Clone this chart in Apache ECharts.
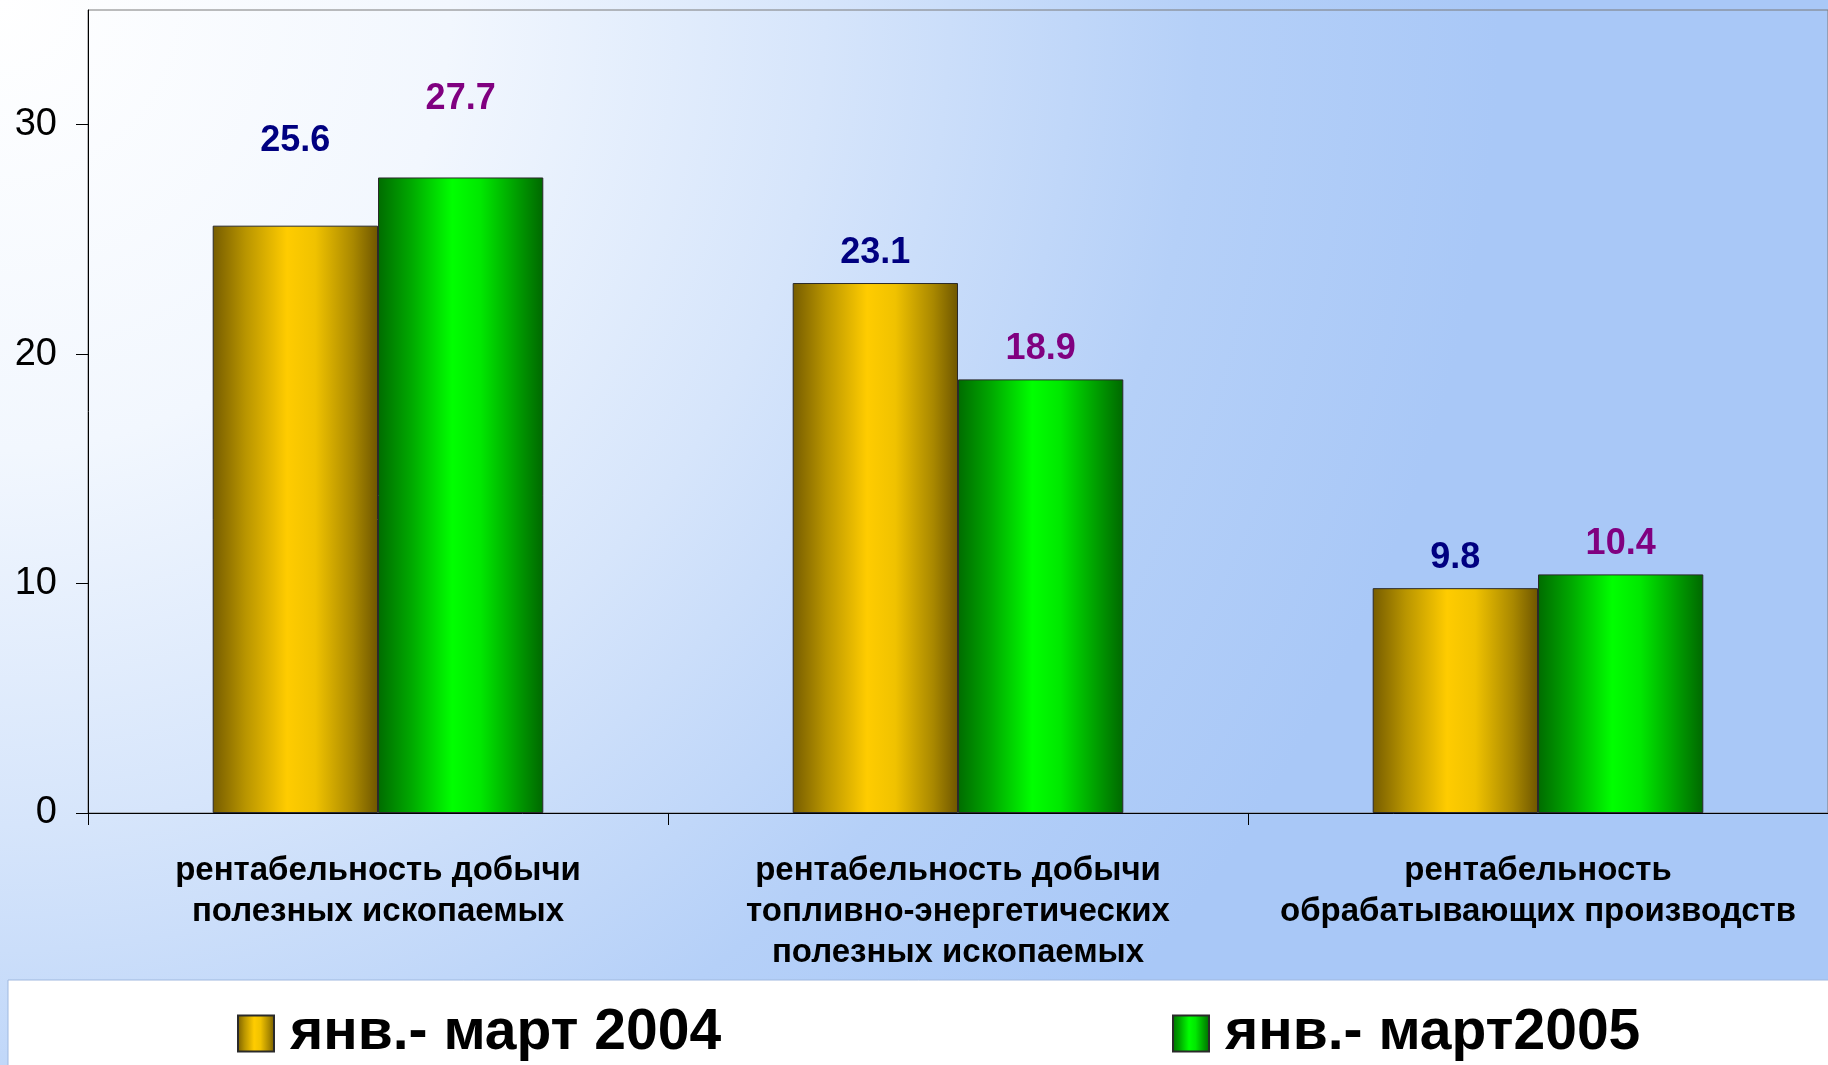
<!DOCTYPE html>
<html>
<head>
<meta charset="utf-8">
<title>рентабельность</title>
<script src="https://cdn.jsdelivr.net/npm/echarts@6/dist/echarts.min.js"></script>
<style>
  html, body { margin: 0; padding: 0; background: #ffffff; }
  #main { width: 1828px; height: 1065px; }
</style>
</head>
<body>
<div id="main"></div>
<script>
// данные
var categories = [
  'рентабельность добычи\nполезных ископаемых',
  'рентабельность добычи\nтопливно-энергетических\nполезных ископаемых',
  'рентабельность\nобрабатывающих производств'
];
var seriesNames = ['янв.- март 2004', 'янв.- март2005'];
var values2004 = [25.6, 23.1, 9.8];
var values2005 = [27.7, 18.9, 10.4];
var yTicks = [0, 10, 20, 30];

// подписи первой группы подняты выше (как в оригинале)
var lift2004 = [67, 12, 12];
var lift2005 = [60, 12, 12];

var chart = echarts.init(document.getElementById('main'));

var yellow = new echarts.graphic.LinearGradient(0, 0, 1, 0, [
  { offset: 0, color: '#765c00' },
  { offset: 0.2, color: '#b99500' },
  { offset: 0.45, color: '#ffcc00' },
  { offset: 0.62, color: '#f0c200' },
  { offset: 0.85, color: '#a98800' },
  { offset: 1, color: '#6e5600' }
]);
var green = new echarts.graphic.LinearGradient(0, 0, 1, 0, [
  { offset: 0, color: '#006c00' },
  { offset: 0.2, color: '#00a800' },
  { offset: 0.45, color: '#00ff00' },
  { offset: 0.62, color: '#00e800' },
  { offset: 0.85, color: '#009a00' },
  { offset: 1, color: '#006800' }
]);

function buildData(values, lift) {
  return values.map(function (v, i) {
    return { value: v, label: { distance: lift[i] } };
  });
}

var legendText = { fontFamily: 'Liberation Sans', fontWeight: 'bold', fontSize: 57, color: '#000', padding: [0, 0, 0, 11] };

var option = {
  backgroundColor: new echarts.graphic.RadialGradient(0, 0, 1500, [
    { offset: 0, color: '#ffffff' },
    { offset: 0.3, color: '#f2f7fe' },
    { offset: 0.55, color: '#d6e5fb' },
    { offset: 0.8, color: '#b5d0f8' },
    { offset: 1, color: '#a9c8f7' }
  ], true),
  animation: false,
  graphic: [{
    type: 'rect',
    shape: { x: 8, y: 980, width: 1830, height: 90 },
    style: { fill: '#ffffff', stroke: '#9fb8df', lineWidth: 1 }
  }],
  grid: {
    left: 88, right: -2, top: 10, bottom: 252,
    show: true, borderColor: '#7a7a7a', borderWidth: 1,
    backgroundColor: 'transparent'
  },
  legend: [{
    data: [seriesNames[0]],
    left: 237, top: 1005, padding: 0,
    icon: 'rect', itemWidth: 36, itemHeight: 36,
    textStyle: legendText
  }, {
    data: [seriesNames[1]],
    left: 1172, top: 1005, padding: 0,
    icon: 'rect', itemWidth: 36, itemHeight: 36,
    textStyle: legendText
  }],
  xAxis: {
    type: 'category',
    data: categories,
    axisLine: { lineStyle: { color: '#000', width: 1 } },
    axisTick: { show: true, length: 12, alignWithLabel: false, lineStyle: { color: '#000' } },
    axisLabel: {
      interval: 0, margin: 37,
      fontFamily: 'Liberation Sans', fontWeight: 'bold', fontSize: 33, lineHeight: 41, color: '#000'
    }
  },
  yAxis: {
    type: 'value',
    min: 0, max: 35, interval: 10,
    axisLine: { show: true, lineStyle: { color: '#000', width: 1 } },
    axisTick: { show: true, length: 12, customValues: yTicks, lineStyle: { color: '#000' } },
    axisLabel: {
      customValues: yTicks, margin: 31,
      fontFamily: 'Liberation Sans', fontSize: 38, color: '#000'
    },
    splitLine: { show: false }
  },
  series: [{
    name: seriesNames[0],
    type: 'bar',
    barGap: '0%',
    barCategoryGap: '43%',
    data: buildData(values2004, lift2004),
    itemStyle: { color: yellow, borderColor: '#2a2a2a', borderWidth: 1 },
    label: {
      show: true, position: 'top',
      fontFamily: 'Liberation Sans', fontWeight: 'bold', fontSize: 36, color: '#000080'
    }
  }, {
    name: seriesNames[1],
    type: 'bar',
    barGap: '0%',
    barCategoryGap: '43%',
    data: buildData(values2005, lift2005),
    itemStyle: { color: green, borderColor: '#2a2a2a', borderWidth: 1 },
    label: {
      show: true, position: 'top',
      fontFamily: 'Liberation Sans', fontWeight: 'bold', fontSize: 36, color: '#800080'
    }
  }]
};

chart.setOption(option);
</script>
</body>
</html>
